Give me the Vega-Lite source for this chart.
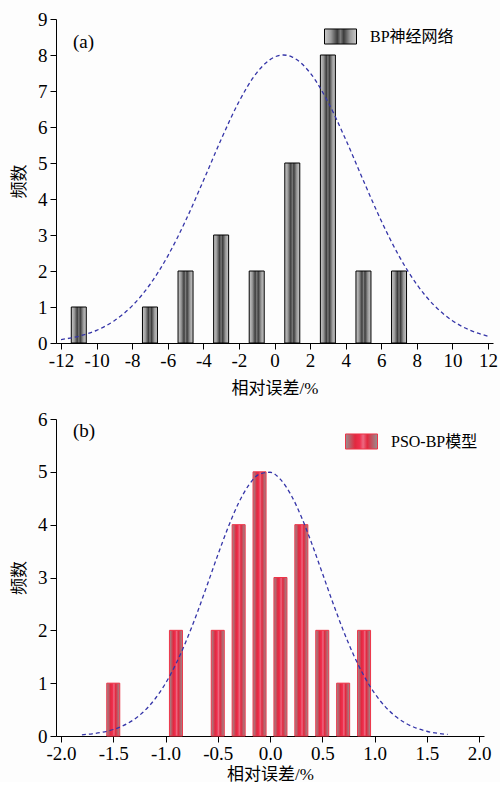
{
  "$schema": "https://vega.github.io/schema/vega-lite/v6.json",
  "background": "#fdfdfd",
  "padding": {"top": 10, "left": 10, "right": 2, "bottom": 0},
  "spacing": 14,
  "resolve": {"scale": {"stroke": "independent"}, "legend": {"stroke": "independent"}},
  "config": {
    "view": {"stroke": null},
    "font": "Liberation Serif",
    "axis": {
      "grid": false,
      "domainColor": "black",
      "tickColor": "black",
      "tickSize": 6,
      "labelColor": "black",
      "labelFont": "Liberation Serif",
      "labelFontSize": 19,
      "labelPadding": 2,
      "labelOverlap": false,
      "titleColor": "black",
      "titleFont": "Liberation Serif, Noto Sans CJK SC",
      "titleFontSize": 17,
      "titleFontWeight": "normal"
    },
    "axisY": {"titlePadding": 9, "labelPadding": 3},
    "axisX": {"titlePadding": 4, "labelFlush": false},
    "legend": {
      "orient": "none",
      "title": null,
      "labelFont": "Liberation Serif, Noto Sans CJK SC",
      "labelFontSize": 16,
      "labelColor": "black",
      "labelOffset": 13,
      "symbolType": "M-1,-0.47H1V0.47H-1Z",
      "symbolSize": 1024,
      "symbolStrokeWidth": 1
    },
    "title": {"font": "Liberation Serif", "fontSize": 19, "fontWeight": "normal", "color": "black"}
  },
  "datasets": {
    "a_bars": [
      {"error": -11, "freq": 1, "series": "BP神经网络"},
      {"error": -7, "freq": 1, "series": "BP神经网络"},
      {"error": -5, "freq": 2, "series": "BP神经网络"},
      {"error": -3, "freq": 3, "series": "BP神经网络"},
      {"error": -1, "freq": 2, "series": "BP神经网络"},
      {"error": 1, "freq": 5, "series": "BP神经网络"},
      {"error": 3, "freq": 8, "series": "BP神经网络"},
      {"error": 5, "freq": 2, "series": "BP神经网络"},
      {"error": 7, "freq": 2, "series": "BP神经网络"}
    ],
    "a_curve": [
      {"error": -12, "freq": 0.095}, {"error": -11, "freq": 0.188}, {"error": -10, "freq": 0.352},
      {"error": -9, "freq": 0.62}, {"error": -8, "freq": 1.032}, {"error": -7, "freq": 1.625},
      {"error": -6, "freq": 2.415}, {"error": -5, "freq": 3.394}, {"error": -4, "freq": 4.506},
      {"error": -3, "freq": 5.654}, {"error": -2, "freq": 6.701}, {"error": -1, "freq": 7.506},
      {"error": 0, "freq": 7.943}, {"error": 0.5, "freq": 8.0}, {"error": 1, "freq": 7.943},
      {"error": 2, "freq": 7.506}, {"error": 3, "freq": 6.701}, {"error": 4, "freq": 5.654},
      {"error": 5, "freq": 4.506}, {"error": 6, "freq": 3.394}, {"error": 7, "freq": 2.415},
      {"error": 8, "freq": 1.625}, {"error": 9, "freq": 1.032}, {"error": 10, "freq": 0.62},
      {"error": 11, "freq": 0.352}, {"error": 12, "freq": 0.188}
    ],
    "b_bars": [
      {"error": -1.5, "freq": 1, "series": "PSO-BP模型"},
      {"error": -0.9, "freq": 2, "series": "PSO-BP模型"},
      {"error": -0.5, "freq": 2, "series": "PSO-BP模型"},
      {"error": -0.3, "freq": 4, "series": "PSO-BP模型"},
      {"error": -0.1, "freq": 5, "series": "PSO-BP模型"},
      {"error": 0.1, "freq": 3, "series": "PSO-BP模型"},
      {"error": 0.3, "freq": 4, "series": "PSO-BP模型"},
      {"error": 0.5, "freq": 2, "series": "PSO-BP模型"},
      {"error": 0.7, "freq": 1, "series": "PSO-BP模型"},
      {"error": 0.9, "freq": 2, "series": "PSO-BP模型"}
    ],
    "b_curve": [
      {"error": -1.8, "freq": 0.023}, {"error": -1.7, "freq": 0.042}, {"error": -1.6, "freq": 0.073},
      {"error": -1.5, "freq": 0.123}, {"error": -1.4, "freq": 0.2}, {"error": -1.3, "freq": 0.314},
      {"error": -1.2, "freq": 0.478}, {"error": -1.1, "freq": 0.702}, {"error": -1.0, "freq": 0.996},
      {"error": -0.9, "freq": 1.365}, {"error": -0.8, "freq": 1.809}, {"error": -0.7, "freq": 2.315},
      {"error": -0.6, "freq": 2.864}, {"error": -0.5, "freq": 3.423}, {"error": -0.4, "freq": 3.953},
      {"error": -0.3, "freq": 4.412}, {"error": -0.2, "freq": 4.758}, {"error": -0.1, "freq": 4.958},
      {"error": 0.0, "freq": 4.992}, {"error": 0.1, "freq": 4.857}, {"error": 0.2, "freq": 4.567},
      {"error": 0.3, "freq": 4.148}, {"error": 0.4, "freq": 3.641}, {"error": 0.5, "freq": 3.088},
      {"error": 0.6, "freq": 2.531}, {"error": 0.7, "freq": 2.004}, {"error": 0.8, "freq": 1.534},
      {"error": 0.9, "freq": 1.134}, {"error": 1.0, "freq": 0.81}, {"error": 1.1, "freq": 0.56},
      {"error": 1.2, "freq": 0.373}, {"error": 1.3, "freq": 0.241}, {"error": 1.4, "freq": 0.15},
      {"error": 1.5, "freq": 0.09}, {"error": 1.6, "freq": 0.052}, {"error": 1.7, "freq": 0.029}
    ]
  },
  "vconcat": [
    {
      "width": 437,
      "height": 324,
      "title": {"text": "(a)", "anchor": "start", "frame": "group", "orient": "top", "offset": -30, "dx": 17, "dy": 27, "baseline": "alphabetic"},
      "encoding": {
        "x": {"field": "error", "type": "quantitative", "scale": {"domain": [-12, 12], "nice": false},
              "axis": {"title": "相对误差/%", "titlePadding": 10, "labelOverlap": false, "values": [-12, -10, -8, -6, -4, -2, 0, 2, 4, 6, 8, 10, 12],
                       "labelExpr": "datum.value < 0 ? '-' + format(-datum.value, 'd') : format(datum.value, 'd')"}},
        "y": {"field": "freq", "type": "quantitative", "scale": {"domain": [0, 9], "nice": false},
              "axis": {"title": "频数", "labelOverlap": false, "values": [0, 1, 2, 3, 4, 5, 6, 7, 8, 9]}}
      },
      "layer": [
        {
          "data": {"name": "a_bars"},
          "mark": {"type": "bar", "width": 15, "strokeWidth": 1,
                   "fill": {"gradient": "linear", "x1": 0, "y1": 0, "x2": 1, "y2": 0,
                       "stops": [{"offset": 0, "color": "#cacaca"}, {"offset": 0.2, "color": "#9c9c9c"},
                                 {"offset": 0.4, "color": "#3c3c3c"}, {"offset": 0.5, "color": "#7c7c7c"},
                                 {"offset": 0.6, "color": "#3c3c3c"}, {"offset": 0.8, "color": "#9c9c9c"},
                                 {"offset": 1, "color": "#cacaca"}]}},
          "encoding": {
            "stroke": {"field": "series", "type": "nominal", "scale": {"range": ["black"]},
                     "legend": {"legendX": 268, "legendY": 1,
                                "symbolFillColor": {"expr": "{gradient: 'linear', x1: 0, y1: 0, x2: 1, y2: 0, stops: [{offset: 0, color: '#cacaca'}, {offset: 0.2, color: '#9c9c9c'}, {offset: 0.4, color: '#3c3c3c'}, {offset: 0.5, color: '#7c7c7c'}, {offset: 0.6, color: '#3c3c3c'}, {offset: 0.8, color: '#9c9c9c'}, {offset: 1, color: '#cacaca'}]}"}}}
          }
        },
        {
          "data": {"name": "a_curve"},
          "mark": {"type": "line", "color": "#3535a8", "strokeDash": [4, 3], "strokeWidth": 1.3, "interpolate": "monotone"},
          "encoding": {}
        }
      ]
    },
    {
      "width": 428,
      "height": 317,
      "title": {"text": "(b)", "anchor": "start", "frame": "group", "orient": "top", "offset": -17, "dx": 17, "dy": 29, "baseline": "alphabetic"},
      "encoding": {
        "x": {"field": "error", "type": "quantitative", "scale": {"domain": [-2, 2], "nice": false},
              "axis": {"title": "相对误差/%", "titlePadding": 3, "labelOverlap": false, "values": [-2, -1.5, -1, -0.5, 0, 0.5, 1, 1.5, 2],
                       "labelExpr": "datum.value < 0 ? '-' + format(-datum.value, '.1f') : format(datum.value, '.1f')"}},
        "y": {"field": "freq", "type": "quantitative", "scale": {"domain": [0, 6], "nice": false},
              "axis": {"title": "频数", "labelOverlap": false, "values": [0, 1, 2, 3, 4, 5, 6]}}
      },
      "layer": [
        {
          "data": {"name": "b_bars"},
          "mark": {"type": "bar", "width": 13, "strokeWidth": 1,
                   "fill": {"gradient": "linear", "x1": 0, "y1": 0, "x2": 1, "y2": 0,
                       "stops": [{"offset": 0, "color": "#969090"}, {"offset": 0.3, "color": "#e2283f"},
                                 {"offset": 0.45, "color": "#f0304f"}, {"offset": 0.55, "color": "#ec6a82"},
                                 {"offset": 0.68, "color": "#e2283f"}, {"offset": 1, "color": "#969090"}]}},
          "encoding": {
            "stroke": {"field": "series", "type": "nominal", "scale": {"range": ["#ee3448"]},
                     "legend": {"legendX": 289, "legendY": 6,
                                "symbolFillColor": {"expr": "{gradient: 'linear', x1: 0, y1: 0, x2: 1, y2: 0, stops: [{offset: 0, color: '#969090'}, {offset: 0.3, color: '#e2283f'}, {offset: 0.45, color: '#f0304f'}, {offset: 0.55, color: '#ec6a82'}, {offset: 0.68, color: '#e2283f'}, {offset: 1, color: '#969090'}]}"}}}
          }
        },
        {
          "data": {"name": "b_curve"},
          "mark": {"type": "line", "color": "#3535a8", "strokeDash": [4, 3], "strokeWidth": 1.3, "interpolate": "monotone"},
          "encoding": {}
        }
      ]
    }
  ]
}
